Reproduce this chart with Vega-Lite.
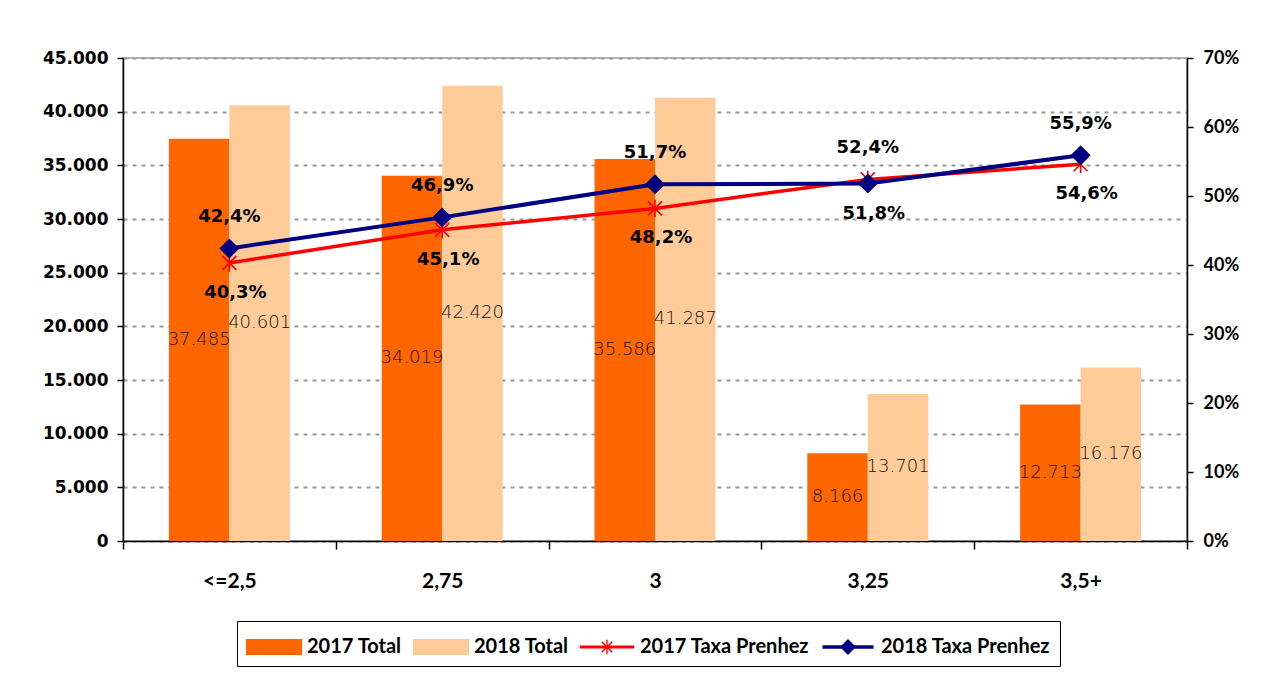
{
  "$schema": "https://vega.github.io/schema/vega-lite/v6.json",
  "autosize": {"type": "none"},
  "padding": {"left": 123, "top": 58, "right": 82, "bottom": 138},
  "width": 1064,
  "height": 483,
  "background": "white",
  "config": {
    "locale": {"number": {"decimal": ",", "thousands": ".", "grouping": [3], "currency": ["R$", ""]}},
    "view": {"stroke": "#999999", "strokeWidth": 1.5},
    "axis": {"domainColor": "black", "domainWidth": 1.5, "tickColor": "black", "tickWidth": 1.5, "labelColor": "black", "title": null}
  },
  "data": {
    "values": [
      {"cat": "<=2,5", "series": "2017 Total", "value": 37485},
      {"cat": "<=2,5", "series": "2018 Total", "value": 40601},
      {"cat": "2,75", "series": "2017 Total", "value": 34019},
      {"cat": "2,75", "series": "2018 Total", "value": 42420},
      {"cat": "3", "series": "2017 Total", "value": 35586},
      {"cat": "3", "series": "2018 Total", "value": 41287},
      {"cat": "3,25", "series": "2017 Total", "value": 8166},
      {"cat": "3,25", "series": "2018 Total", "value": 13701},
      {"cat": "3,5+", "series": "2017 Total", "value": 12713},
      {"cat": "3,5+", "series": "2018 Total", "value": 16176},
      {"cat": "<=2,5", "series": "2017 Taxa Prenhez", "value": 0.403},
      {"cat": "2,75", "series": "2017 Taxa Prenhez", "value": 0.451},
      {"cat": "3", "series": "2017 Taxa Prenhez", "value": 0.482},
      {"cat": "3,25", "series": "2017 Taxa Prenhez", "value": 0.524},
      {"cat": "3,5+", "series": "2017 Taxa Prenhez", "value": 0.546},
      {"cat": "<=2,5", "series": "2018 Taxa Prenhez", "value": 0.424},
      {"cat": "2,75", "series": "2018 Taxa Prenhez", "value": 0.469},
      {"cat": "3", "series": "2018 Taxa Prenhez", "value": 0.517},
      {"cat": "3,25", "series": "2018 Taxa Prenhez", "value": 0.518},
      {"cat": "3,5+", "series": "2018 Taxa Prenhez", "value": 0.559}
    ]
  },
  "encoding": {
    "x": {
      "field": "cat", "type": "nominal",
      "sort": ["<=2,5", "2,75", "3", "3,25", "3,5+"],
      "scale": {"paddingInner": 0, "paddingOuter": 0},
      "axis": {"labelAngle": 0, "tickBand": "extent", "tickSize": 8, "labelPadding": 21, "labelFont": "Lato", "labelFontWeight": "bold", "labelFontSize": 21}
    }
  },
  "layer": [
    {
      "transform": [{"filter": "indexof(datum.series, 'Total') >= 0"}],
      "mark": {"type": "bar"},
      "encoding": {
        "xOffset": {"field": "series", "type": "nominal", "sort": ["2017 Total", "2018 Total"], "scale": {"paddingInner": 0, "paddingOuter": 0.759}},
        "y": {"field": "value", "type": "quantitative", "scale": {"domain": [0, 45000], "nice": false},
          "axis": {"orient": "left", "values": [0, 5000, 10000, 15000, 20000, 25000, 30000, 35000, 40000, 45000], "format": ",.0f", "labelFont": "DejaVu Sans", "labelFontWeight": "bold", "labelFontSize": 17, "tickSize": 6, "labelPadding": 9, "grid": true, "gridDash": [4, 5], "gridColor": "#999999", "gridWidth": 2}},
        "color": {"condition": {"test": "datum.series === '2017 Total'", "value": "#FF6600"}, "value": "#FFCC99"}
      }
    },
    {
      "transform": [{"filter": "indexof(datum.series, 'Total') >= 0"}],
      "mark": {"type": "text", "font": "DejaVu Sans", "fontWeight": 300, "fontSize": 18, "color": "#111111", "baseline": "middle", "align": "center"},
      "encoding": {
        "xOffset": {"field": "series", "type": "nominal", "sort": ["2017 Total", "2018 Total"], "scale": {"paddingInner": 0, "paddingOuter": 0.759}},
        "y": {"field": "value", "type": "quantitative", "scale": {"domain": [0, 90000], "nice": false}, "axis": null},
        "text": {"field": "value", "type": "quantitative", "format": ",.0f"}
      }
    },
    {
      "transform": [{"filter": "datum.series === '2017 Taxa Prenhez'"}],
      "mark": {"type": "line", "color": "#FF0000", "strokeWidth": 3.5},
      "encoding": {
        "y": {"field": "value", "type": "quantitative", "scale": {"domain": [0, 0.7], "nice": false},
          "axis": {"orient": "right", "values": [0, 0.1, 0.2, 0.3, 0.4, 0.5, 0.6, 0.7], "format": ".0%", "labelFont": "Lato", "labelFontWeight": "bold", "labelFontSize": 18, "tickSize": 6, "labelPadding": 10, "grid": false}}
      }
    },
    {
      "transform": [{"filter": "datum.series === '2017 Taxa Prenhez'"}],
      "mark": {"type": "point", "shape": "M-1,-1L1,1M-1,1L1,-1M0,-1.25L0,1.25", "filled": false, "stroke": "#FF0000", "strokeWidth": 1.6, "size": 196, "opacity": 1},
      "encoding": {
        "y": {"field": "value", "type": "quantitative", "scale": {"domain": [0, 0.7], "nice": false}, "axis": null}
      }
    },
    {
      "transform": [{"filter": "datum.series === '2018 Taxa Prenhez'"}],
      "mark": {"type": "line", "color": "#000080", "strokeWidth": 4},
      "encoding": {
        "y": {"field": "value", "type": "quantitative", "scale": {"domain": [0, 0.7], "nice": false}, "axis": null}
      }
    },
    {
      "transform": [{"filter": "datum.series === '2018 Taxa Prenhez'"}],
      "mark": {"type": "point", "shape": "diamond", "filled": true, "color": "#000080", "size": 400, "opacity": 1},
      "encoding": {
        "y": {"field": "value", "type": "quantitative", "scale": {"domain": [0, 0.7], "nice": false}, "axis": null}
      }
    },
    {
      "transform": [{"filter": "(datum.series === '2018 Taxa Prenhez' && datum.cat !== '3,25') || (datum.series === '2017 Taxa Prenhez' && datum.cat === '3,25')"}],
      "mark": {"type": "text", "font": "DejaVu Sans", "fontWeight": "bold", "fontSize": 18, "color": "black", "baseline": "middle", "dy": -31},
      "encoding": {
        "y": {"field": "value", "type": "quantitative", "scale": {"domain": [0, 0.7], "nice": false}, "axis": null},
        "text": {"field": "value", "type": "quantitative", "format": ".1%"}
      }
    },
    {
      "transform": [{"filter": "(datum.series === '2017 Taxa Prenhez' && datum.cat !== '3,25') || (datum.series === '2018 Taxa Prenhez' && datum.cat === '3,25')"}],
      "mark": {"type": "text", "font": "DejaVu Sans", "fontWeight": "bold", "fontSize": 18, "color": "black", "baseline": "middle", "dy": 30, "dx": 6},
      "encoding": {
        "y": {"field": "value", "type": "quantitative", "scale": {"domain": [0, 0.7], "nice": false}, "axis": null},
        "text": {"field": "value", "type": "quantitative", "format": ".1%"}
      }
    },
    {
      "mark": {"type": "point", "filled": true, "clip": true, "opacity": 1},
      "encoding": {
        "y": {"field": "value", "type": "quantitative", "scale": {"domain": [1000000, 2000000], "nice": false, "zero": false}, "axis": null},
        "color": {"field": "series", "type": "nominal",
          "scale": {"domain": ["2017 Total", "2018 Total", "2017 Taxa Prenhez", "2018 Taxa Prenhez"], "range": ["#FF6600", "#FFCC99", "#FF0000", "#000080"]},
          "legend": {"title": null, "orient": "none", "legendX": 114, "legendY": 563, "direction": "horizontal", "columns": 4, "symbolSize": 1156, "symbolOpacity": 1, "symbolStrokeWidth": 0, "symbolOffset": 11, "labelOffset": 16, "labelFont": "Lato", "labelFontWeight": "bold", "labelFontSize": 20, "labelColor": "black", "labelLimit": 300, "columnPadding": 10, "padding": 9, "strokeColor": "black", "fillColor": "white"}},
        "shape": {"field": "series", "type": "nominal",
          "scale": {"domain": ["2017 Total", "2018 Total", "2017 Taxa Prenhez", "2018 Taxa Prenhez"],
            "range": [
              "M-1.65,-0.47H1.65V0.47H-1.65Z",
              "M-1.65,-0.47H1.65V0.47H-1.65Z",
              "M-1.6,-0.09H1.6V0.09H-1.6Z M-0.04,-0.42H0.04V0.42H-0.04Z M-0.34,-0.28L-0.28,-0.34L0.34,0.28L0.28,0.34Z M0.28,-0.34L0.34,-0.28L-0.28,0.34L-0.34,0.28Z",
              "M-1.5,-0.1H1.5V0.1H-1.5Z M-0.47,0L0,-0.47L0.47,0L0,0.47Z"
            ]}}
      }
    }
  ],
  "resolve": {"scale": {"y": "independent"}}
}
